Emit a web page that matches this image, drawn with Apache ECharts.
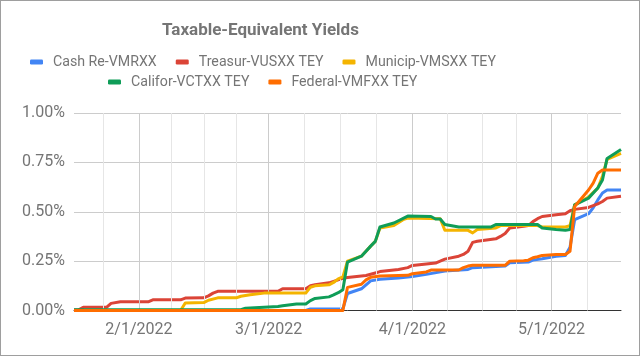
<!DOCTYPE html>
<html><head><meta charset="utf-8">
<script src="https://cdn.jsdelivr.net/npm/echarts@6/dist/echarts.min.js"></script>
<style>html,body{margin:0;padding:0;background:#fff}#c{width:640px;height:356px;box-sizing:border-box;border:1px solid #9e9e9e}</style>
</head><body><div id="c"></div>
<script>
const seriesNames = ['Cash Re-VMRXX','Treasur-VUSXX TEY','Municip-VMSXX TEY','Califor-VCTXX TEY','Federal-VMFXX TEY'];
const monthLabels = ['2022-02-01','2022-03-01','2022-04-01','2022-05-01'];
const monthStarts = ['2022-01-01','2022-02-01','2022-03-01','2022-04-01','2022-05-01','2022-06-01'];
const yTicks = [0,0.25,0.5,0.75,1];
const cashRe = [['2022-01-18',0],['2022-03-09',0],['2022-03-10',0.008],['2022-03-17',0.008],['2022-03-18',0.086],['2022-03-21',0.11],['2022-03-23',0.15],['2022-03-25',0.158],['2022-03-29',0.165],['2022-04-01',0.172],['2022-04-04',0.183],['2022-04-08',0.2],['2022-04-13',0.208],['2022-04-14',0.217],['2022-04-21',0.225],['2022-04-22',0.242],['2022-04-26',0.245],['2022-04-27',0.255],['2022-04-29',0.262],['2022-05-02',0.275],['2022-05-04',0.279],['2022-05-05',0.32],['2022-05-06',0.46],['2022-05-09',0.49],['2022-05-10',0.52],['2022-05-11',0.56],['2022-05-12',0.595],['2022-05-13',0.61],['2022-05-16',0.61]];
const treasury = [['2022-01-18',0.003],['2022-01-19',0.003],['2022-01-20',0.016],['2022-01-25',0.016],['2022-01-26',0.036],['2022-01-28',0.044],['2022-02-03',0.044],['2022-02-04',0.054],['2022-02-10',0.054],['2022-02-11',0.063],['2022-02-15',0.064],['2022-02-16',0.074],['2022-02-17',0.088],['2022-02-18',0.097],['2022-03-03',0.097],['2022-03-04',0.11],['2022-03-09',0.11],['2022-03-10',0.125],['2022-03-11',0.13],['2022-03-14',0.14],['2022-03-16',0.155],['2022-03-17',0.163],['2022-03-18',0.167],['2022-03-22',0.177],['2022-03-24',0.19],['2022-03-25',0.197],['2022-03-29',0.208],['2022-03-31',0.217],['2022-04-01',0.228],['2022-04-04',0.235],['2022-04-06',0.24],['2022-04-08',0.26],['2022-04-11',0.275],['2022-04-12',0.284],['2022-04-13',0.3],['2022-04-14',0.345],['2022-04-15',0.351],['2022-04-19',0.363],['2022-04-20',0.375],['2022-04-21',0.39],['2022-04-22',0.418],['2022-04-25',0.426],['2022-04-26',0.43],['2022-04-27',0.45],['2022-04-28',0.465],['2022-04-29',0.476],['2022-05-02',0.485],['2022-05-04',0.49],['2022-05-05',0.505],['2022-05-06',0.512],['2022-05-09',0.522],['2022-05-11',0.54],['2022-05-12',0.552],['2022-05-13',0.569],['2022-05-16',0.578]];
const municipal = [['2022-01-18',0],['2022-02-10',0],['2022-02-11',0.038],['2022-02-15',0.04],['2022-02-16',0.052],['2022-02-18',0.064],['2022-02-22',0.064],['2022-02-23',0.072],['2022-02-25',0.08],['2022-02-28',0.088],['2022-03-09',0.088],['2022-03-10',0.118],['2022-03-11',0.125],['2022-03-14',0.13],['2022-03-15',0.142],['2022-03-16',0.16],['2022-03-17',0.17],['2022-03-18',0.25],['2022-03-21',0.275],['2022-03-23',0.326],['2022-03-24',0.35],['2022-03-25',0.418],['2022-03-28',0.43],['2022-03-30',0.46],['2022-03-31',0.468],['2022-04-07',0.465],['2022-04-08',0.406],['2022-04-13',0.406],['2022-04-14',0.393],['2022-04-15',0.41],['2022-04-19',0.418],['2022-04-20',0.43],['2022-04-28',0.43],['2022-04-29',0.423],['2022-05-04',0.423],['2022-05-05',0.43],['2022-05-06',0.535],['2022-05-09',0.575],['2022-05-11',0.62],['2022-05-12',0.68],['2022-05-13',0.765],['2022-05-16',0.795]];
const califor = [['2022-01-18',0.004],['2022-02-23',0.004],['2022-02-24',0.012],['2022-03-03',0.02],['2022-03-04',0.024],['2022-03-07',0.033],['2022-03-09',0.033],['2022-03-10',0.05],['2022-03-11',0.061],['2022-03-14',0.069],['2022-03-15',0.079],['2022-03-16',0.09],['2022-03-17',0.105],['2022-03-18',0.245],['2022-03-21',0.275],['2022-03-23',0.326],['2022-03-24',0.35],['2022-03-25',0.423],['2022-03-28',0.443],['2022-03-31',0.478],['2022-04-05',0.476],['2022-04-06',0.463],['2022-04-07',0.463],['2022-04-08',0.435],['2022-04-11',0.423],['2022-04-18',0.423],['2022-04-19',0.435],['2022-04-28',0.435],['2022-04-29',0.418],['2022-05-02',0.41],['2022-05-04',0.406],['2022-05-05',0.41],['2022-05-06',0.535],['2022-05-09',0.569],['2022-05-11',0.62],['2022-05-12',0.661],['2022-05-13',0.77],['2022-05-16',0.815]];
const federal = [['2022-01-18',0],['2022-03-17',0],['2022-03-18',0.117],['2022-03-21',0.133],['2022-03-22',0.155],['2022-03-23',0.168],['2022-03-25',0.175],['2022-03-31',0.178],['2022-04-01',0.186],['2022-04-04',0.195],['2022-04-05',0.205],['2022-04-11',0.205],['2022-04-12',0.217],['2022-04-13',0.225],['2022-04-14',0.229],['2022-04-21',0.229],['2022-04-22',0.25],['2022-04-25',0.252],['2022-04-26',0.255],['2022-04-27',0.267],['2022-04-28',0.272],['2022-04-29',0.279],['2022-05-02',0.284],['2022-05-04',0.284],['2022-05-05',0.3],['2022-05-06',0.527],['2022-05-09',0.61],['2022-05-10',0.645],['2022-05-11',0.695],['2022-05-12',0.711],['2022-05-16',0.711]];

const colors = ['#4285F4','#DB4437','#F4B400','#0F9D58','#FF6D00'];
const xMin = '2022-01-18', xMax = '2022-05-16';
function ts(s){const p=s.split('-');return new Date(+p[0],+p[1]-1,+p[2]).getTime();}
const gridMarks = [];
for (let i=0;i<monthStarts.length-1;i++){
  const a=ts(monthStarts[i]), b=ts(monthStarts[i+1]);
  for (let k=0;k<4;k++){
    const t=a+(b-a)*k/4;
    if (t>ts(xMin) && t<ts(xMax)) gridMarks.push({xAxis:t, lineStyle:{color: k===0?'#cccccc':'#e6e6e6', width:1, type:'solid'}});
  }
}
const dataSets = [cashRe, treasury, municipal, califor, federal];
const series = dataSets.map((d,i)=>({
  name: seriesNames[i], type:'line', data: d.map(p=>[ts(p[0]),p[1]]),
  showSymbol:false, symbol:'none', lineStyle:{width:3,color:colors[i],join:'round'}, itemStyle:{color:colors[i]},
  z: 3+i, animation:false
}));
series.unshift({name:'grid', type:'line', data:[], silent:true, z:1, animation:false,
  markLine:{silent:true, symbol:['none','none'], label:{show:false}, animation:false, data: gridMarks}});
const chart = echarts.init(document.getElementById('c'));
const tstyle = {color:'#757575', fontFamily:'Roboto', fontSize:14.2};
chart.setOption({
  animation:false,
  color: colors,
  title:{text:'Taxable-Equivalent Yields', left:161, top:21, padding:0, textStyle:{color:'#757575', fontFamily:'Roboto', fontSize:17, fontWeight:'bold'}},
  legend:[
    {data:seriesNames.slice(0,3), left:29, top:54, padding:0, icon:'roundRect', itemWidth:13, itemHeight:5, itemGap:19, textStyle:Object.assign({padding:[0,0,0,5]},tstyle)},
    {data:seriesNames.slice(3), left:107, top:74, padding:0, icon:'roundRect', itemWidth:13, itemHeight:5, itemGap:19, textStyle:Object.assign({padding:[0,0,0,5]},tstyle)}
  ],
  grid:{left:73, right:18, top:112, bottom:44.5, containLabel:false},
  xAxis:{type:'value', min:ts(xMin), max:ts(xMax), scale:true,
    axisLine:{show:true, onZero:false, lineStyle:{color:'#333333', width:1}},
    axisTick:{show:false},
    splitLine:{show:false},
    axisLabel:{customValues: monthLabels.map(ts), color:'#757575', fontFamily:'Roboto', fontSize:16, margin:11,
      formatter:function(v){const d=new Date(v);return (d.getMonth()+1)+'/'+d.getDate()+'/'+d.getFullYear();}}
  },
  yAxis:{type:'value', min:yTicks[0], max:yTicks[yTicks.length-1], interval:0.25,
    axisLine:{show:false}, axisTick:{show:false},
    splitLine:{lineStyle:{color:'#cccccc', width:1}},
    axisLabel:{color:'#757575', fontFamily:'Roboto', fontSize:16, margin:9, formatter:v=>v.toFixed(2)+'%'}
  },
  series: series
});
</script></body></html>
